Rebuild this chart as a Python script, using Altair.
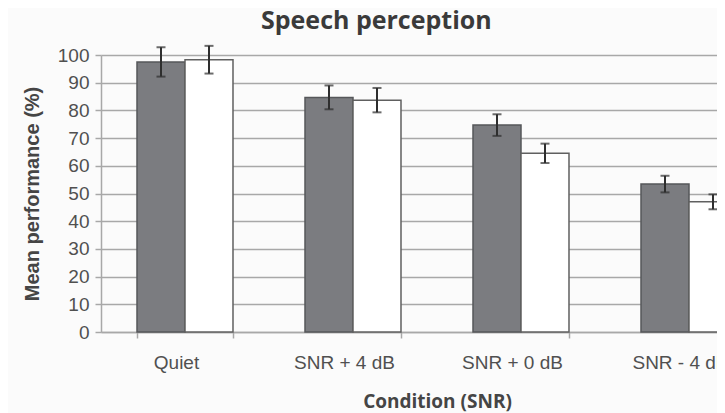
import altair as alt
import pandas as pd

conditions = ["Quiet", "SNR + 4 dB", "SNR + 0 dB", "SNR - 4 dB"]
groups = ["A", "B"]
mean_a = [97.5, 84.7, 74.7, 53.4]
err_a = [5.3, 4.3, 3.9, 3.0]
mean_b = [98.3, 83.7, 64.5, 47.0]
err_b = [5.0, 4.4, 3.5, 2.7]
y_ticks = [0, 10, 20, 30, 40, 50, 60, 70, 80, 90, 100]

rows = []
for i, c in enumerate(conditions):
    rows.append(dict(cond=c, grp="A", mean=mean_a[i], lo=mean_a[i] - err_a[i], hi=mean_a[i] + err_a[i]))
    rows.append(dict(cond=c, grp="B", mean=mean_b[i], lo=mean_b[i] - err_b[i], hi=mean_b[i] + err_b[i]))
df = pd.DataFrame(rows)

GRID = "#a8a8a8"
LABEL = "#505050"

x_axis = alt.Axis(
    title="Condition (SNR)", labelAngle=0, tickBand="extent", grid=False,
    domainColor=GRID, domainWidth=1.5, tickColor=GRID, tickWidth=1.5, tickSize=6,
    labelFont="Liberation Sans", labelFontSize=19, labelColor=LABEL, labelPadding=15,
    labelOffset=-9,
    titleFont="Open Sans", titleFontSize=19, titleFontWeight="bold", titleColor="#454545",
    titleY=75, titleBaseline="alphabetic",
)
y_axis = alt.Axis(
    title="Mean performance (%)", values=y_ticks, grid=True, gridColor=GRID, gridWidth=1.5,
    domainColor=GRID, domainWidth=1.5, tickColor=GRID, tickWidth=1.5, tickSize=6,
    labelFont="Liberation Sans", labelFontSize=19, labelColor=LABEL, labelPadding=6,
    titleFont="Liberation Sans", titleFontSize=20, titleFontWeight="bold", titleColor="#454545",
    titleX=-69, titleY=138.5, titleBaseline="middle", titleAlign="center", titleAngle=-90,
)

x_scale = alt.Scale(domain=conditions, range=[0, 672], paddingInner=0.4286, paddingOuter=0.2143)
y_scale = alt.Scale(domain=[0, 100], nice=False)
xo = alt.XOffset("grp:N", scale=alt.Scale(domain=groups, paddingInner=0, paddingOuter=0))


def X():
    return alt.X("cond:N", sort=conditions, scale=x_scale, axis=x_axis)


def Y(field):
    return alt.Y(f"{field}:Q", scale=y_scale, axis=y_axis)


base = alt.Chart(df)

bars = base.mark_bar(strokeWidth=1.5).encode(
    x=X(), xOffset=xo, y=Y("mean"),
    color=alt.Color("grp:N", scale=alt.Scale(domain=groups, range=["#7b7c80", "#ffffff"]), legend=None),
    stroke=alt.Stroke("grp:N", scale=alt.Scale(domain=groups, range=["#56575a", "#606060"]), legend=None),
)
stems = base.mark_rule(color="#2e2e2e", strokeWidth=2).encode(
    x=X(), xOffset=xo, y=Y("lo"), y2="hi:Q"
)
cap_hi = base.mark_tick(color="#2e2e2e", thickness=2, size=9).encode(x=X(), xOffset=xo, y=Y("hi"))
cap_lo = base.mark_tick(color="#2e2e2e", thickness=2, size=9).encode(x=X(), xOffset=xo, y=Y("lo"))

chart = alt.layer(bars, stems, cap_hi, cap_lo).properties(
    width=616, height=277,
    title=alt.TitleParams(
        "Speech perception", anchor="start", frame="group", dx=160, font="Open Sans",
        fontSize=25, fontWeight="bold", color="#3a3a3a", offset=-9, baseline="alphabetic",
    ),
    autosize=alt.AutoSizeParams(type="none"),
    padding={"left": 93, "top": 47, "right": 0, "bottom": 81},
    background="#fbfbfb",
).configure_view(stroke=None)

chart.save("out.html", embed_options={"renderer": "svg", "actions": False})
